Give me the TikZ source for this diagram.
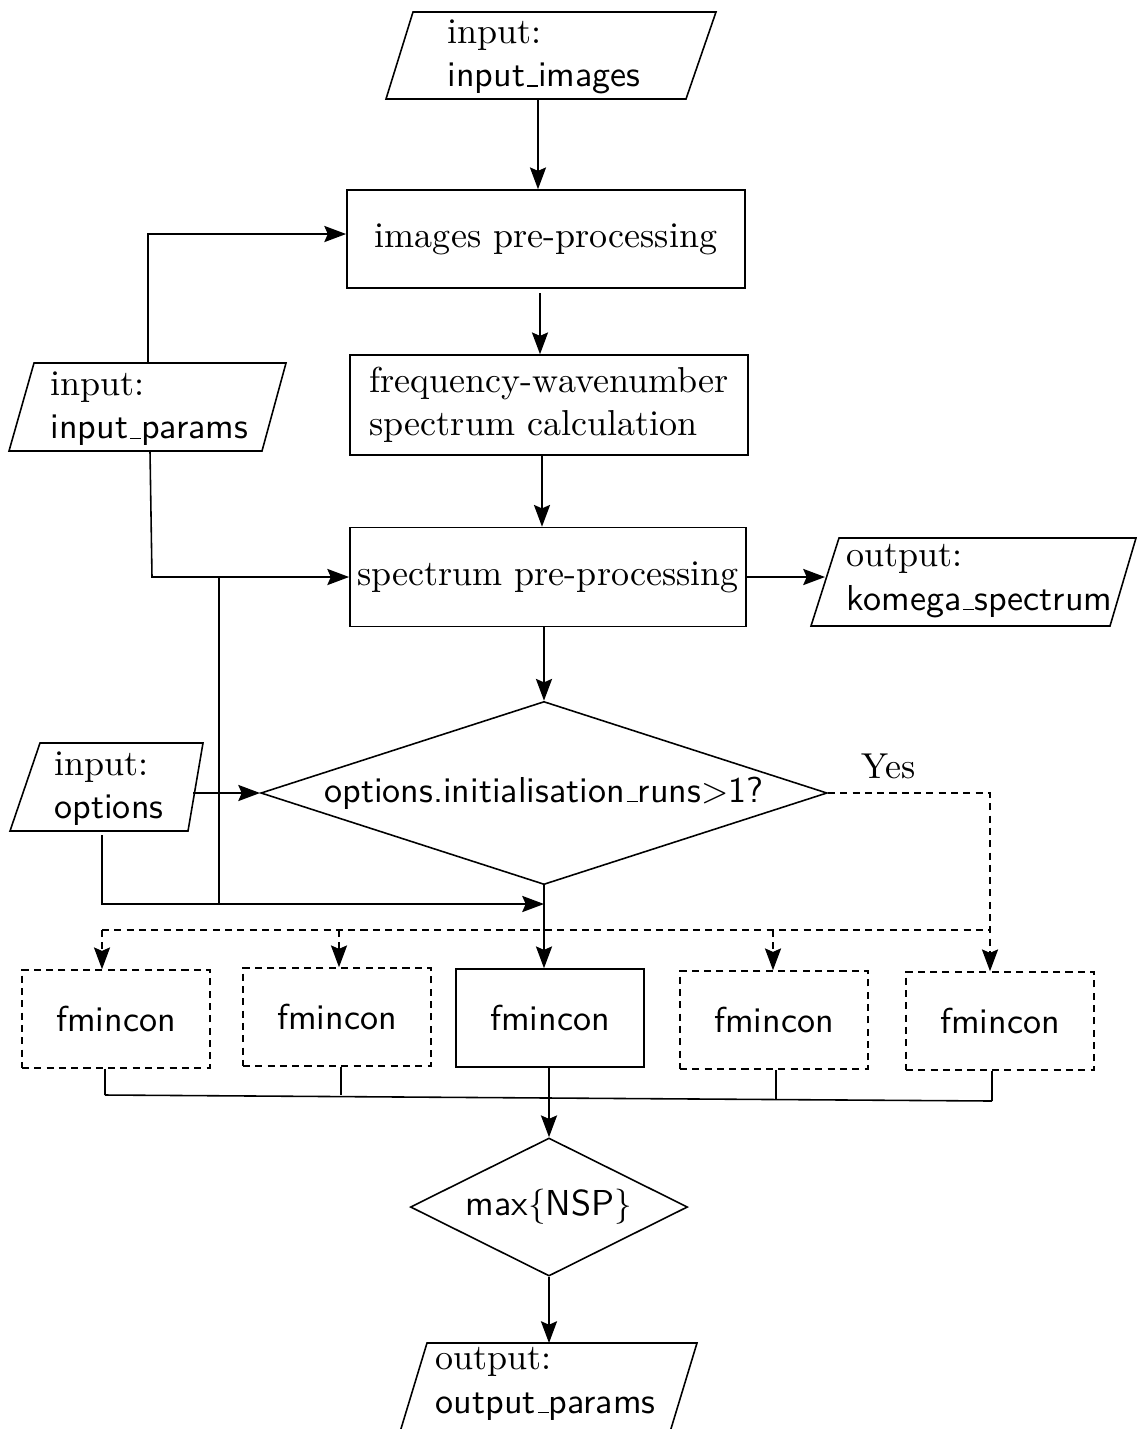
\documentclass[tikz,border=0pt]{standalone}
\usetikzlibrary{shapes.geometric,arrows.meta}
\newcommand\usc{\leavevmode\kern.06em\vbox{\hrule width.3em}}
\begin{document}
\begin{tikzpicture}[x=0.01cm,y=-0.01cm,
  ln/.style={line width=0.45pt},
  tip/.style={-{Stealth[length=6.2pt,width=4.6pt,inset=1pt]}},
  arr/.style={ln,tip},
  dsh/.style={ln,dash pattern=on 2pt off 1.5pt},
  proc/.style={draw,ln,inner sep=0pt,align=center},
  fbox/.style={draw,ln,inner sep=0pt,minimum width=1.88cm,minimum height=0.98cm,font=\sffamily},
  txt/.style={inner sep=0pt,anchor=west,align=left}]
\fontsize{10.25}{12.3}\selectfont
\useasboundingbox (0,0) rectangle (1137,1429);

% input images
\draw[ln] (413,12) -- (716,12) -- (686,99) -- (386,99) -- cycle;
\node[txt] (inimg) at (447,57) {input:\\\textsf{input\usc images}};
\coordinate (inimgb) at (538,99);

% process boxes
\node[proc,minimum width=3.98cm,minimum height=0.98cm] (pre) at (546,239) {images pre-processing};
\node[proc,minimum width=3.98cm,minimum height=1.00cm,align=left] (fk) at (549,405) {frequency-wavenumber\\spectrum calculation};
\node[proc,minimum width=3.96cm,minimum height=0.99cm] (spp) at (548,577) {spectrum pre-processing};

% input params
\draw[ln] (34,363) -- (286,363) -- (262,451) -- (9,451) -- cycle;
\node[txt] (inpar) at (50,409) {input:\\\textsf{input\usc params}};
\coordinate (part) at (148,363);
\coordinate (parb) at (150,451);

% komega output
\draw[ln] (839,538) -- (1136,538) -- (1110,626) -- (811,626) -- cycle;
\node[txt] (kom) at (846,581) {output:\\\textsf{komega\usc spectrum}};
\coordinate (koml) at (825,577);

% decision
\node[draw,ln,diamond,aspect=3,inner sep=0pt,minimum width=5.66cm,minimum height=1.83cm] (dec) at (544,793) {\textsf{options.initialisation\usc runs$>$1?}};
\node (yes) at (889,766) {Yes};

% input options
\draw[ln] (40,743) -- (203,743) -- (188,831) -- (10,831) -- cycle;
\node[txt] (inopt) at (54,789) {input:\\\textsf{options}};
\coordinate (optr) at (193,793);
\coordinate (optb) at (102,835);

% fmincon boxes
\node[fbox,dsh] (f1) at (116,1019) {fmincon};
\node[fbox,dsh] (f2) at (337,1017) {fmincon};
\node[fbox] (f3) at (550,1018) {fmincon};
\node[fbox,dsh] (f4) at (774,1020) {fmincon};
\node[fbox,dsh] (f5) at (1000,1021) {fmincon};

% max NSP
\node[draw,ln,diamond,aspect=2,inner sep=0pt,minimum width=2.77cm,minimum height=1.38cm] (mx) at (549,1207) {\textsf{max}$\{$\textsf{NSP}$\}$};

% output params
\draw[ln] (427,1343) -- (697,1343) -- (670,1432) -- (400,1432) -- cycle;
\node[txt] (outp) at (435,1384) {output:\\\textsf{output\usc params}};
\coordinate (outt) at (549,1343);

% main flow
\draw[arr] (inimgb) -- (inimgb |- pre.north);
\coordinate (s2) at (540,293);
\draw[arr] (s2) -- (s2 |- fk.north);
\coordinate (s3) at (542,455);
\draw[arr] (s3) -- (s3 |- spp.north);
\draw[arr] (spp.east) -- (koml);
\draw[arr] (dec.north |- spp.south) -- (dec.north);

% params connectors
\coordinate (pk1) at (148,234);
\draw[arr] (part) -- (pk1) -- (pk1 -| pre.west);
\coordinate (pk2) at (152,577);
\draw[arr] (parb) -- (pk2) -- (spp.west);
\coordinate (vt) at (219,577);
\coordinate (vb) at (219,904);
\draw[ln] (vt) -- (vb);

% options connectors
\draw[arr] (optr) -- (dec.west);
\coordinate (ok) at (102,904);
\coordinate (jn) at (dec.south |- ok);
\draw[arr] (optb) -- (ok) -- (jn);
\draw[arr] (dec.south) -- (dec.south |- f3.north);

% yes branch
\coordinate (yc) at (990,793);
\draw[dsh,tip] (dec.east) -- (yc) -- (yc |- f5.north);
\coordinate (dl) at (102,930);
\coordinate (dr) at (990,930);
\draw[dsh] (dl) -- (dr);
\coordinate (d2) at (339,930);
\coordinate (d4) at (773,930);
\draw[dsh,tip] (dl) -- (dl |- f1.north);
\draw[dsh,tip] (d2) -- (d2 |- f2.north);
\draw[dsh,tip] (d4) -- (d4 |- f4.north);

% collecting lines
\coordinate (c1) at (105,1095);
\coordinate (c2) at (341,1095);
\coordinate (c4) at (776,1099);
\coordinate (c5) at (992,1101);
\draw[ln] (c1 |- f1.south) -- (c1);
\draw[ln] (c2 |- f2.south) -- (c2);
\draw[ln] (c4 |- f4.south) -- (c4);
\draw[ln] (c5 |- f5.south) -- (c5);
\draw[ln] (c1) -- (c5);
\draw[arr] (mx.north |- f3.south) -- (mx.north);
\draw[arr] (mx.south) -- (mx.south |- outt);
\end{tikzpicture}
\end{document}
